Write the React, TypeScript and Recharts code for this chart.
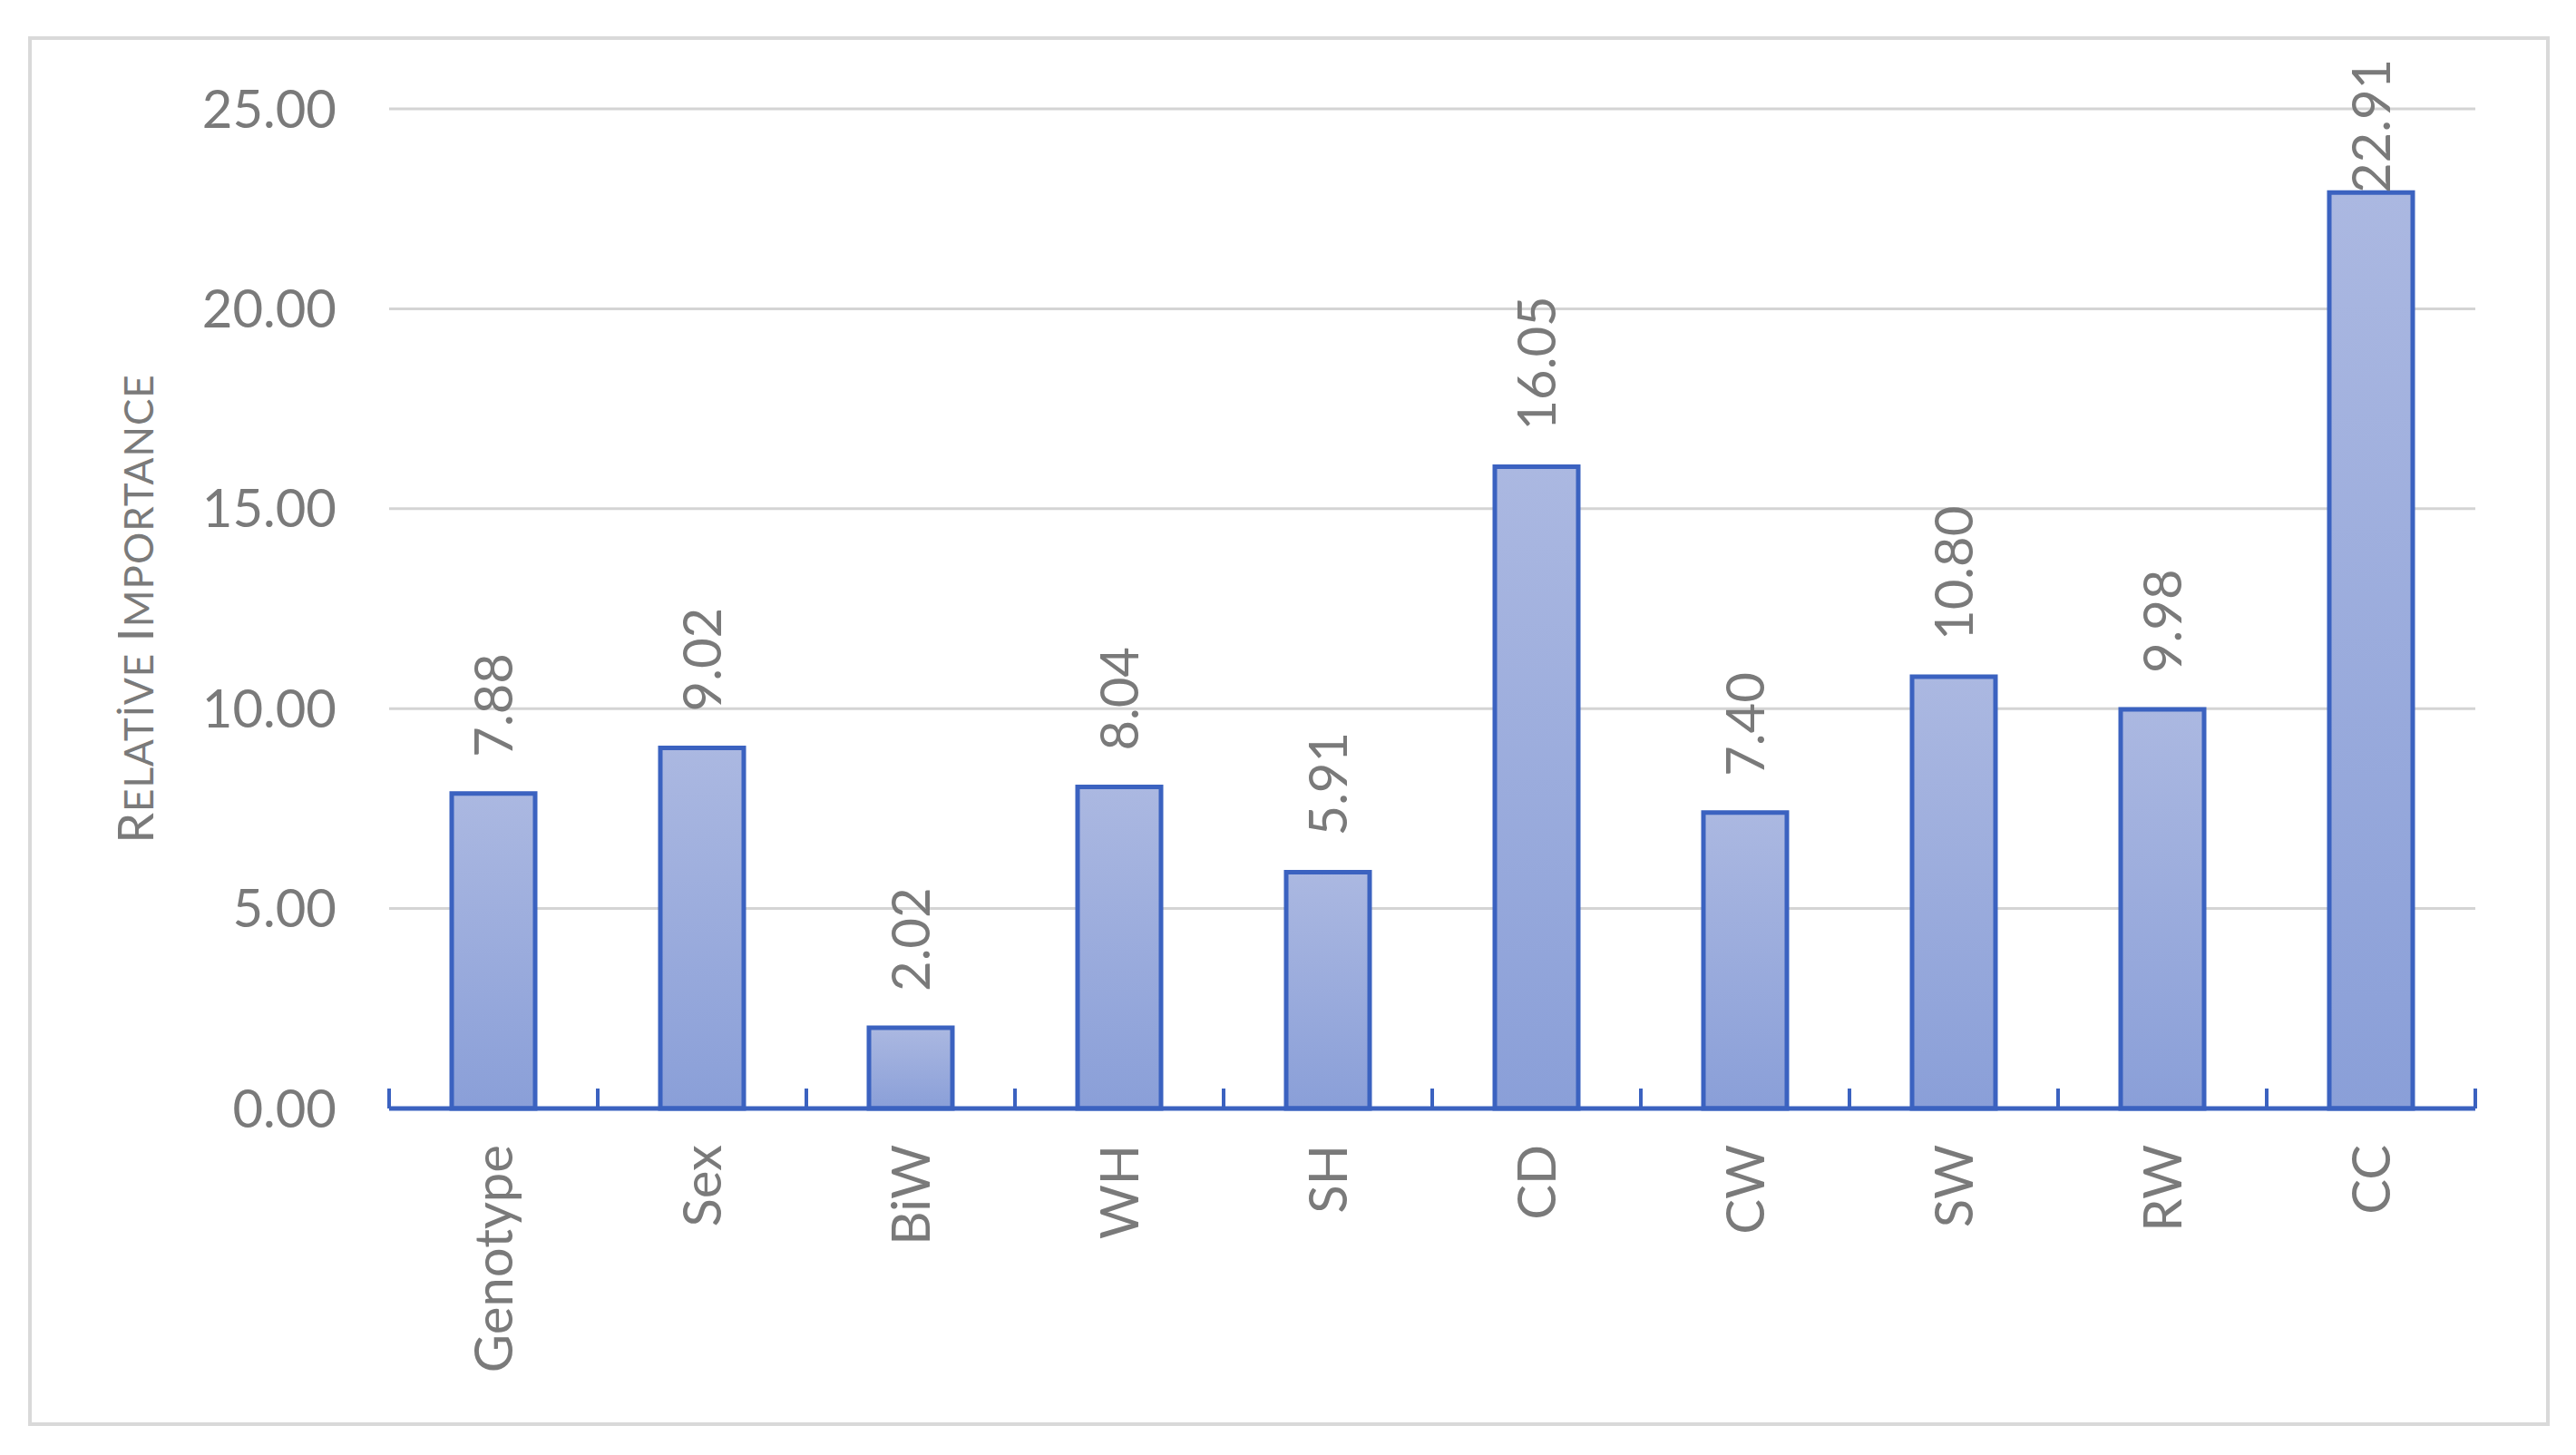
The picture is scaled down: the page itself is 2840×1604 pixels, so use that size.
import React from 'react'
import { BarChart, Bar, XAxis, YAxis, CartesianGrid, LabelList } from 'recharts'

const categories = ['Genotype', 'Sex', 'BiW', 'WH', 'SH', 'CD', 'CW', 'SW', 'RW', 'CC']
const importance = [7.88, 9.02, 2.02, 8.04, 5.91, 16.05, 7.4, 10.8, 9.98, 22.91]
const yTicks = [0, 5, 10, 15, 20, 25]

const data = categories.map((name, i) => ({ name, value: importance[i] }))

const FONT = 'Lato, "Liberation Sans", sans-serif'
const GREY = '#7a7a7a'
const BLUE = '#3b62c0'
const FS = 58
const LABEL_GAP = 40
const EDGE_TICK = 22

// category label plus the upward tick marks on the band edges (Excel style)
const CategoryTick = (props: any) => {
    const { x, y, payload, index, visibleTicksCount } = props
    const half = payload?.offset ?? 0
    const axisY = y - LABEL_GAP
    const isLast = index === visibleTicksCount - 1
    return (
        <g>
            {half > 0 && (
                <line x1={x - half} x2={x - half} y1={axisY} y2={axisY - EDGE_TICK} stroke={BLUE} strokeWidth={4} />
            )}
            {half > 0 && isLast && (
                <line x1={x + half} x2={x + half} y1={axisY} y2={axisY - EDGE_TICK} stroke={BLUE} strokeWidth={4} />
            )}
            <text
                x={x}
                y={y}
                transform={`rotate(-90, ${x}, ${y})`}
                textAnchor="end"
                dy="0.36em"
                fill={GREY}
                fontSize={FS}
                fontFamily={FONT}
            >
                {payload.value}
            </text>
        </g>
    )
}

// rotated value label above each bar, kept inside the chart frame like Excel does
const ValueLabel = (props: any) => {
    const vb = props.viewBox ?? props
    const x = vb.x + vb.width / 2
    const text = Number(props.value).toFixed(2)
    const len = FS * (text.replace('.', '').length * 0.58 + 0.25)
    const bottom = Math.max(vb.y - 40, 24 + len)
    return (
        <text
            x={x}
            y={bottom}
            transform={`rotate(-90, ${x}, ${bottom})`}
            textAnchor="start"
            dy="0.36em"
            fill={GREY}
            fontSize={FS}
            fontFamily={FONT}
        >
            {text}
        </text>
    )
}

const AxisTitle = (props: any) => {
    const vb = props.viewBox
    const cx = vb.x + 132
    const cy = vb.y + vb.height / 2
    return (
        <text
            x={cx}
            y={cy}
            transform={`rotate(-90, ${cx}, ${cy})`}
            textAnchor="middle"
            dy="0.36em"
            fill={GREY}
            fontFamily={FONT}
            letterSpacing={1}
        >
            <tspan fontSize={54}>R</tspan>
            <tspan fontSize={44}>ELATİVE </tspan>
            <tspan fontSize={54}>I</tspan>
            <tspan fontSize={44}>MPORTANCE</tspan>
        </text>
    )
}

export default function App() {
    return (
        <div style={{ position: 'absolute', left: 31, top: 40, width: 2780, height: 1532 }}>
            <BarChart
                width={2780}
                height={1532}
                data={data}
                margin={{ top: 80, right: 82, left: 0, bottom: 0 }}
                barCategoryGap="30%"
            >
                <defs>
                    <linearGradient id="barFill" x1="0" y1="0" x2="0" y2="1">
                        <stop offset="0%" stopColor="#abb8e1" />
                        <stop offset="100%" stopColor="#8a9fd8" />
                    </linearGradient>
                </defs>
                <rect x={2} y={2} width={2776} height={1528} fill="none" stroke="#d9d9d9" strokeWidth={4} />
                <CartesianGrid vertical={false} stroke="#d4d4d4" strokeWidth={3} />
                <XAxis
                    dataKey="name"
                    height={350}
                    interval={0}
                    axisLine={{ stroke: BLUE, strokeWidth: 5 }}
                    tickLine={false}
                    tickSize={0}
                    tickMargin={LABEL_GAP}
                    tick={<CategoryTick />}
                />
                <YAxis
                    domain={[0, 25]}
                    ticks={yTicks}
                    width={398}
                    axisLine={false}
                    tickLine={false}
                    tickSize={0}
                    tickMargin={58}
                    tickFormatter={(v: number) => v.toFixed(2)}
                    tick={{ fill: GREY, fontSize: FS, fontFamily: FONT }}
                    label={<AxisTitle />}
                />
                <Bar dataKey="value" fill="url(#barFill)" stroke={BLUE} strokeWidth={5} isAnimationActive={false}>
                    <LabelList dataKey="value" content={<ValueLabel />} />
                </Bar>
            </BarChart>
        </div>
    )
}
